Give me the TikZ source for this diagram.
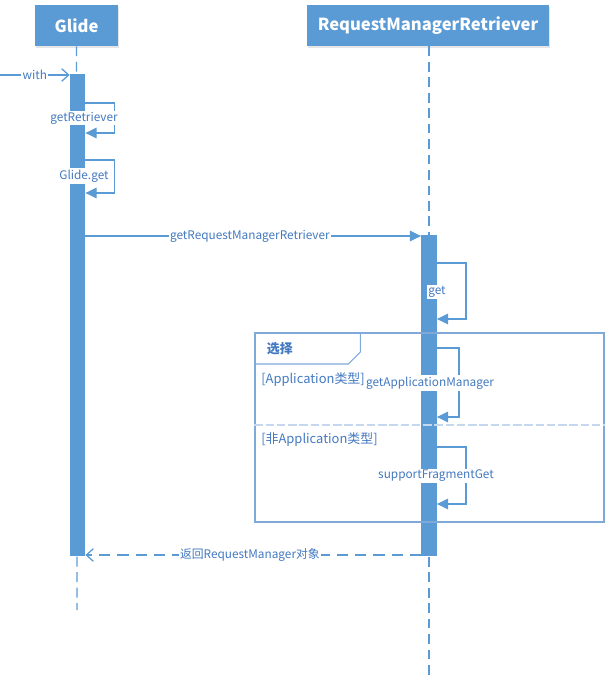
\documentclass[tikz,border=0pt]{standalone}
\usepackage{fontspec}
\setmainfont{Noto Sans CJK SC}
\usetikzlibrary{arrows.meta,shadows}
\definecolor{umlblue}{HTML}{5B9BD5}
\definecolor{labelblue}{HTML}{4379C0}
\definecolor{framegray}{HTML}{7FA9D9}

\begin{document}
\begin{tikzpicture}[
        x=0.025cm, y=-0.025cm,
        header/.style={rectangle, fill=umlblue, text=white, font=\fontsize{11.8}{14}\selectfont\bfseries,
            minimum height=1.025cm, drop shadow={opacity=0.2, shadow xshift=0.5pt, shadow yshift=-1.5pt}},
        lifeline/.style={umlblue, line width=1pt, dash pattern=on 7pt off 4pt},
        bar/.style={rectangle, fill=umlblue, minimum width=0.38cm, inner sep=0pt},
        call/.style={umlblue, line width=0.9pt, -{Triangle[length=8pt,width=7.5pt]}},
        reply/.style={umlblue, line width=0.9pt, dash pattern=on 8pt off 5pt, -{Straight Barb[length=5pt,width=9pt]}},
        msg/.style={fill=white, text=labelblue, inner sep=1pt, font=\fontsize{8.4}{10}\selectfont},
        guard/.style={text=labelblue, inner sep=0pt, font=\fontsize{9.2}{11}\selectfont},
        framepen/.style={framegray, line width=0.8pt}
    ]
\useasboundingbox (0,0) rectangle (605,686);

% Lifeline heads
        \node[header, minimum width=2.075cm] (glide) at (76.5,25.5) {Glide};
        \node[header, minimum width=6.05cm] (rmr) at (428,25.5) {RequestManagerRetriever};

% Lifelines
        \coordinate (glideEnd) at (77,610);
        \coordinate (rmrEnd) at (429,680);
        \draw[lifeline] (glide.south) -- (glideEnd);
        \draw[lifeline] (rmr.south -| rmrEnd) -- (rmrEnd);

% Activation bars
        \node[bar, minimum height=12.05cm] (barA) at (77.5,315) {};
        \node[bar, minimum height=8.025cm] (barB) at (429,395.5) {};

% Combined fragment
        \node[draw=framegray, line width=0.8pt, minimum width=8.725cm, minimum height=4.725cm,
            inner sep=0pt] (alt) at (429.5,427.5) {};
        \draw[framepen] (alt.north west |- 0,364) -- ++(94,0) -- ++(12,-12) -- ++(0,-19);
        \draw[framepen, draw=framegray!45, dash pattern=on 6pt off 2pt] (alt.west |- 0,425) -- (alt.east |- 0,425);
        \node[text=labelblue, font=\fontsize{9.2}{11}\selectfont\bfseries, anchor=west] (altname) at (262,349) {选择};
        \node[guard, anchor=west] (g1) at (261,380) {[Application类型]};
        \node[guard, anchor=west] (g2) at (261,440) {[非Application类型]};

% Messages
        \coordinate (caller) at (0,75);
        \draw[umlblue, line width=0.9pt, -{Straight Barb[length=5pt,width=9pt]}] (caller) -- (barA.west |- caller)
            node[msg, pos=0.5] {with};
        \draw[call] (barA.east |- 0,103) -- ++(29,0) |- (barA.east |- 0,133);
        \node[msg] (m1) at (84,118) {getRetriever};
        \draw[call] (barA.east |- 0,160) -- ++(29,0) |- (barA.east |- 0,193);
        \node[msg] (m2) at (84,176) {Glide.get};
        \draw[call] (barA.east |- 0,236) -- (barB.west |- 0,236)
            node[msg, pos=0.49] {getRequestManagerRetriever};
        \draw[call] (barB.east |- 0,263) -- ++(29,0) |- (barB.east |- 0,319);
        \node[msg] (m3) at (437,292) {get};
        \draw[call] (barB.east |- 0,348) -- ++(22,0) |- (barB.east |- 0,417);
        \node[msg] (m4) at (430,383) {getApplicationManager};
        \draw[call] (barB.east |- 0,447) -- ++(29,0) |- (barB.east |- 0,504);
        \node[msg] (m5) at (436,476) {supportFragmentGet};
        \draw[reply] (barB.west |- 0,555) -- (barA.east |- 0,555)
            node[msg, pos=0.51] {返回RequestManager对象};

    \end{tikzpicture}
\end{document}
